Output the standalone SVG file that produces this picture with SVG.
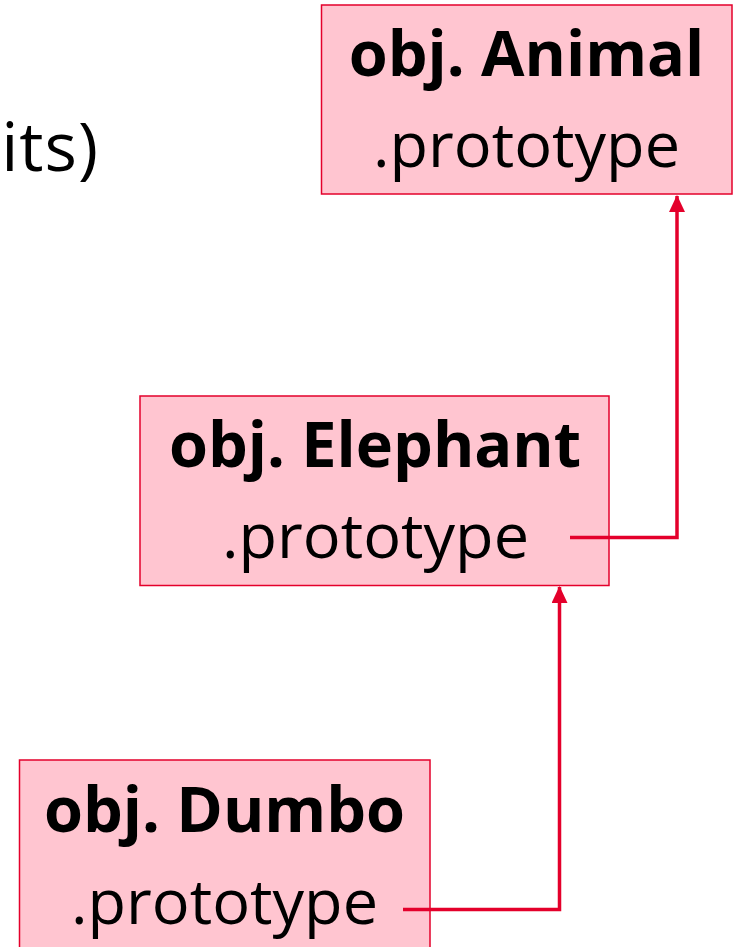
<svg xmlns="http://www.w3.org/2000/svg" width="736" height="947" viewBox="0 0 736 947">
  <defs>
    <style>
      .box { fill: #ffc5d0; stroke: #e4002b; stroke-width: 1.5; }
      .title { font-family: "Open Sans", "Noto Sans", "Liberation Sans", sans-serif; font-weight: 700; font-size: 63px; fill: #000; text-anchor: middle; }
      .prop { font-family: "Open Sans", "Noto Sans", "Liberation Sans", sans-serif; font-weight: 400; font-size: 63px; fill: #000; text-anchor: middle; }
      .link { fill: none; stroke: #e4002b; stroke-width: 3.5; marker-end: url(#arrow); }
    </style>
    <!-- filled triangle head, drawn pointing along +x so orient="auto" follows the path -->
    <marker id="arrow" viewBox="0 0 17 16" refX="16" refY="8" markerWidth="17" markerHeight="16" markerUnits="userSpaceOnUse" orient="auto">
      <path d="M0 0 L17 8 L0 16 Z" fill="#e4002b"/>
    </marker>
  </defs>

  <rect width="736" height="947" fill="#ffffff"/>

  <!-- tail of a caption running in from the left edge -->
  <text class="prop" x="99" y="171" style="text-anchor:end; font-size:68px; letter-spacing:1px">its)</text>

  <g id="node-animal">
    <rect class="box" x="321.5" y="5" width="410.5" height="189"/>
    <text class="title" x="526.5" y="76">obj. Animal</text>
    <text class="prop" x="526.5" y="167">.prototype</text>
  </g>

  <g id="node-elephant">
    <rect class="box" x="140" y="396" width="469" height="189.5"/>
    <text class="title" x="375" y="467">obj. Elephant</text>
    <text class="prop" x="375.5" y="558">.prototype</text>
  </g>

  <g id="node-dumbo">
    <rect class="box" x="19.5" y="760" width="410.5" height="200"/>
    <text class="title" x="224.5" y="832">obj. Dumbo</text>
    <text class="prop" x="224.5" y="924">.prototype</text>
  </g>

  <g id="connectors">
    <path class="link" d="M570 537.5 H677 V196"/>
    <path class="link" d="M403 909.5 H559.5 V587"/>
  </g>
</svg>
